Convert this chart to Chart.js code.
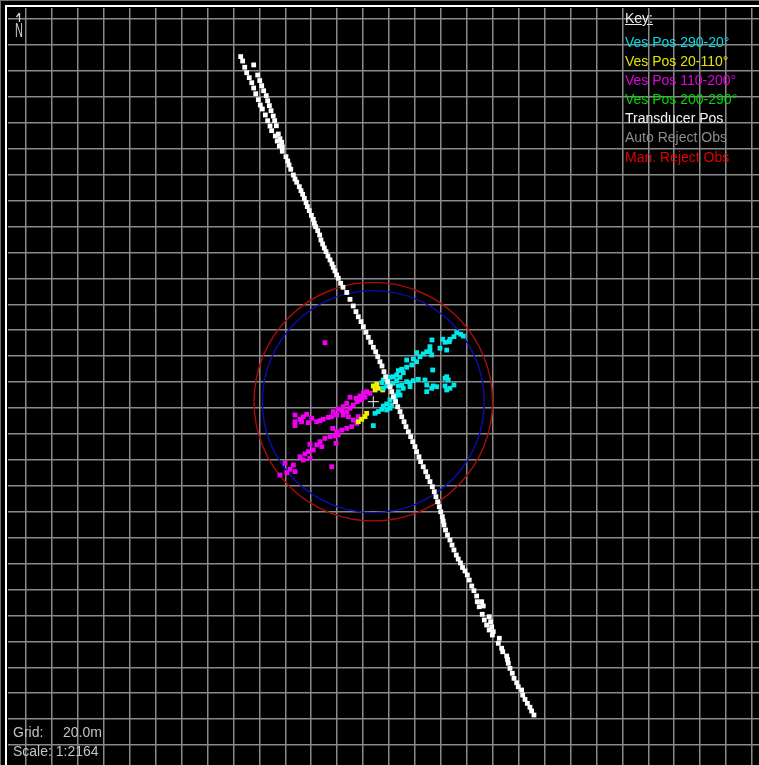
<!DOCTYPE html>
<html lang="en">
<head>
<meta charset="UTF-8">
<title>Position Plot</title>
<script src="https://cdn.jsdelivr.net/npm/chart.js"></script>
<style>
  body { margin: 0; background: #000; font-family: Arial, "Liberation Sans", sans-serif; }
  .plot { position: relative; width: 759px; height: 765px; background: #000; overflow: hidden; }
  .plot canvas { position: absolute; left: 0; top: 0; }
  .edge { position: absolute; left: 0; top: 0; right: 0; bottom: 0; border-top: 1px solid #707070; border-left: 1px solid #707070; pointer-events: none; }
  .frame { position: absolute; left: 5px; top: 5px; right: 0; bottom: 0; border-top: 2px solid #fff; border-left: 2px solid #fff; pointer-events: none; }
  .key { position: absolute; left: 625px; font-size: 14px; line-height: 19.1px; white-space: nowrap; }
  .key-title { top: 9px; color: #e8e8e8; text-decoration: underline; }
  .key-items { top: 33px; }
  .info { position: absolute; left: 13px; font-size: 14px; color: #c4c4c4; white-space: nowrap; }
</style>
</head>
<body>
<div class="plot">
  <canvas id="posChart" width="759" height="765"></canvas>
  <div class="edge"></div>
  <div class="frame"></div>
  <div class="key key-title">Key:</div>
  <div class="key key-items" id="keyItems"></div>
  <div class="info" style="top:724px">Grid:</div>
  <div class="info" style="top:724px; left:63px">20.0m</div>
  <div class="info" style="top:743px">Scale: 1:2164</div>
</div>
<script>
// positions in metres (easting, northing) on the local 20 m grid
const centrePos = [267.9, 264.9];
const ringRadii = [85.6, 92.0];

const transducerPos = [
  [165.6,531.0],[167.1,527.6],[175.6,524.6],[168.7,522.8],[170.2,518.6],[178.7,516.8],[172.2,514.8],[180.3,512.5],
  [174.1,510.9],[181.8,508.6],[175.6,506.8],[183.3,504.7],[177.2,502.4],[185.3,500.9],[179.2,497.8],[186.4,497.0],
  [180.7,493.7],[187.7,493.2],[182.3,490.6],[189.0,489.3],[184.6,486.0],[190.7,485.2],[186.4,481.6],[191.8,481.6],
  [193.1,477.7],[188.2,477.5],[189.5,473.9],[194.6,471.3],[192.3,469.8],[195.9,467.7],[193.8,465.9],[197.2,464.9],
  [195.4,462.1],[197.7,461.5],[197.7,458.0],[200.5,453.8],[201.9,450.5],[202.9,447.4],[204.2,444.1],[206.2,439.7],
  [207.5,436.6],[208.8,434.1],[210.8,430.7],[212.1,427.6],[213.4,424.8],[214.7,421.7],[216.0,418.4],[217.0,415.3],
  [218.5,412.2],[220.1,408.6],[221.6,405.5],[222.4,402.5],[223.4,399.8],[225.0,396.8],[226.5,393.4],[227.5,389.6],
  [228.8,386.5],[230.1,383.4],[231.4,380.6],[232.9,377.2],[234.5,374.2],[236.0,371.1],[237.0,368.5],[238.3,365.7],
  [239.6,362.6],[240.9,360.0],[242.7,356.2],[244.5,353.1],[247.4,349.1],[249.9,343.8],[252.4,338.7],[254.5,334.3],
  [256.3,330.4],[258.4,326.6],[260.2,322.7],[262.2,318.4],[264.0,314.5],[265.9,310.7],[267.9,306.8],[269.7,303.4],
  [271.3,299.6],[273.0,295.7],[274.6,292.4],[276.1,288.0],[277.4,284.1],[279.0,280.3],[280.8,276.4],[282.1,272.6],
  [283.3,268.7],[285.1,264.9],[286.7,261.0],[288.5,257.2],[289.8,253.3],[291.6,249.4],[293.1,245.6],[294.9,241.7],
  [296.7,237.9],[298.3,234.0],[300.0,230.2],[301.3,226.3],[303.1,222.4],[304.4,218.6],[306.4,214.7],[308.3,210.9],
  [309.8,207.0],[311.6,203.2],[313.4,199.3],[314.9,195.4],[316.2,191.6],[317.5,187.7],[318.8,183.9],[319.9,180.0],
  [321.1,176.2],[321.8,172.8],[322.4,169.8],[323.6,165.9],[325.1,162.1],[327.0,158.2],[328.6,154.3],[330.1,150.5],
  [331.9,146.6],[333.4,143.5],[335.1,140.5],[336.7,137.0],[338.6,134.3],[340.4,131.2],[341.9,127.3],[343.8,122.7],
  [345.5,119.1],[347.6,115.0],[351.5,110.6],[348.1,110.6],[349.6,106.7],[352.7,107.3],[351.9,100.9],[357.3,99.0],
  [353.5,96.5],[358.4,95.2],[355.3,92.6],[359.2,91.3],[357.3,88.8],[360.4,87.5],[359.7,84.9],[365.1,82.4],
  [364.3,78.5],[366.9,74.7],[367.7,72.0],[370.8,68.7],[371.4,66.0],[372.0,63.1],[373.3,59.2],[375.1,55.4],
  [376.4,51.5],[378.5,48.1],[379.7,45.0],[382.3,42.5],[383.1,38.6],[384.9,35.3],[386.7,32.2],[388.7,29.2],
  [390.0,26.3],[391.8,23.2]
];

// vessel positions, split by heading sector
const vesPos290to20 = [
  [332.2,318.1],[335.3,316.9],[337.3,315.5],[330.1,315.0],[327.0,313.0],[326.5,311.1],[321.4,313.0],[323.2,310.7],
  [313.1,312.5],[319.3,306.1],[324.5,304.7],[311.6,307.3],[311.6,304.2],[309.1,303.4],[312.9,300.9],[306.4,301.7],
  [303.9,299.6],[301.3,302.7],[298.7,297.8],[293.6,297.0],[301.3,295.7],[297.5,293.2],[293.6,291.4],[289.8,289.9],
  [287.2,288.8],[291.0,287.2],[285.9,285.5],[283.3,284.1],[280.8,283.7],[288.5,283.7],[278.2,282.1],[275.6,281.6],
  [274.4,279.5],[285.9,281.1],[283.3,279.1],[280.8,277.7],[278.2,277.0],[275.6,275.2],[287.2,277.0],[289.8,277.7],
  [291.0,275.2],[287.2,272.6],[285.9,270.0],[288.5,270.0],[284.6,267.5],[280.8,266.2],[278.2,263.1],[275.6,261.5],
  [282.1,262.3],[280.8,259.8],[278.2,258.5],[274.4,259.0],[271.7,257.2],[269.2,255.9],[267.9,246.4],[293.6,280.3],
  [296.2,279.5],[298.7,281.1],[302.6,282.1],[307.7,281.6],[296.2,276.4],[313.7,289.3],[323.2,282.9],[325.7,281.6],
  [309.1,277.7],[314.1,277.0],[316.8,276.4],[323.2,277.0],[330.1,277.7],[327.0,275.2],[324.5,273.9],[312.9,275.2],
  [309.1,272.6],[324.5,284.1]
];
const vesPos20to110 = [
  [267.9,277.0],[270.5,278.3],[271.7,275.2],[269.2,273.9],[275.1,273.9],[262.8,255.9],[261.5,253.3],[258.9,251.3],
  [256.3,249.4]
];
const vesPos110to200 = [
  [230.6,310.4],[262.8,272.6],[260.2,271.3],[265.3,271.3],[257.6,269.3],[261.5,268.3],[254.5,267.5],[258.9,266.2],
  [249.9,268.3],[255.5,264.9],[252.4,262.3],[247.4,263.6],[249.9,259.8],[244.7,261.0],[243.5,257.9],[247.4,257.2],
  [240.9,259.0],[237.0,257.2],[239.6,254.6],[235.8,253.3],[233.2,252.8],[229.3,251.3],[226.8,250.2],[224.2,249.4],
  [220.4,252.1],[216.5,255.1],[213.9,253.3],[211.3,251.3],[207.5,254.6],[207.5,249.4],[212.6,249.4],[217.7,248.7],
  [207.5,246.4],[244.7,254.6],[248.6,253.3],[252.4,250.7],[256.3,253.3],[255.1,248.2],[251.2,245.6],[247.4,244.3],
  [243.5,243.0],[239.6,241.7],[236.6,244.3],[240.9,239.2],[238.3,238.4],[234.5,237.9],[230.6,236.6],[239.1,232.8],
  [226.8,234.0],[224.2,231.5],[228.1,230.2],[219.0,232.0],[221.6,227.6],[217.7,226.3],[215.2,224.5],[211.3,222.4],
  [213.9,219.9],[219.0,221.2],[235.8,214.7],[206.2,216.0],[199.8,217.4],[203.6,212.7],[201.1,210.1],[195.9,208.3],
  [207.5,210.9]
];
const vesPos200to290 = [];
const autoRejectObs = [];
const manRejectObs = [];

const seriesLabels = ['Ves Pos 290-20°', 'Ves Pos 20-110°', 'Ves Pos 110-200°', 'Ves Pos 200-290°',
  'Transducer Pos', 'Auto Reject Obs', 'Man. Reject Obs'];

const markColours = ['#00e8e8', '#f0f000', '#f000f0', '#00e000', '#ffffff', '#808080', '#e00000'];
const keyColours  = ['#00dce6', '#e2e200', '#e000e0', '#00d800', '#f4f4f4', '#8c8c8c', '#e00000'];

const toXY = pts => pts.map(p => ({ x: p[0], y: p[1] }));

// key text
const keyBox = document.getElementById('keyItems');
seriesLabels.forEach((lbl, i) => {
  const d = document.createElement('div');
  d.textContent = lbl;
  d.style.color = keyColours[i];
  keyBox.appendChild(d);
});

// range rings round the centre position + north marker
const rangeRings = {
  id: 'rangeRings',
  beforeDatasetsDraw(chart, args, opts) {
    const { ctx, scales: { x, y } } = chart;
    const cx = x.getPixelForValue(centrePos[0]);
    const cy = y.getPixelForValue(centrePos[1]);
    ringRadii.forEach((r, i) => {
      const rp = Math.abs(x.getPixelForValue(centrePos[0] + r) - cx);
      ctx.save();
      ctx.strokeStyle = opts.colours[i];
      ctx.lineWidth = 1.4;
      ctx.beginPath();
      ctx.arc(cx, cy, rp, 0, Math.PI * 2);
      ctx.stroke();
      ctx.restore();
    });
  },
  afterDraw(chart) {
    const ctx = chart.ctx;
    ctx.save();
    ctx.strokeStyle = '#cfcfcf';
    ctx.lineWidth = 1.3;
    ctx.beginPath();
    ctx.moveTo(19.5, 13); ctx.lineTo(19.5, 22);
    ctx.moveTo(19.5, 13); ctx.lineTo(16.5, 17);
    ctx.stroke();
    ctx.fillStyle = '#cfcfcf';
    ctx.translate(15, 37);
    ctx.scale(0.55, 1);
    ctx.font = '20px Arial';
    ctx.fillText('N', 0, 0);
    ctx.restore();
  }
};

const ptStyle = (data, colour) => ({
  data: toXY(data),
  backgroundColor: colour,
  borderWidth: 0,
  pointStyle: 'rect',
  pointRadius: 3.4
});

const ctx = document.getElementById('posChart').getContext('2d');
new Chart(ctx, {
  type: 'scatter',
  data: {
    datasets: [
      { label: 'Centre', data: toXY([centrePos]), pointStyle: 'cross', pointRadius: 5.5,
        borderColor: '#c8c8c8', borderWidth: 1.2, backgroundColor: '#c8c8c8' },
      { label: seriesLabels[4], ...ptStyle(transducerPos, markColours[4]) },
      { label: seriesLabels[0], ...ptStyle(vesPos290to20, markColours[0]) },
      { label: seriesLabels[1], ...ptStyle(vesPos20to110, markColours[1]) },
      { label: seriesLabels[2], ...ptStyle(vesPos110to200, markColours[2]) },
      { label: seriesLabels[3], ...ptStyle(vesPos200to290, markColours[3]) },
      { label: seriesLabels[5], ...ptStyle(autoRejectObs, markColours[5]) },
      { label: seriesLabels[6], ...ptStyle(manRejectObs, markColours[6]) }
    ]
  },
  options: {
    responsive: false,
    animation: false,
    events: [],
    layout: { autoPadding: false, padding: { left: 8, top: 8, right: 0, bottom: 0 } },
    plugins: {
      legend: { display: false },
      tooltip: { enabled: false },
      rangeRings: { colours: ['#0c0cb4', '#a80c0c'] }
    },
    scales: {
      x: {
        type: 'linear', min: -13.9, max: 565.4,
        border: { display: false },
        grid: { color: '#8a8a8a', lineWidth: 1.5, drawTicks: false },
        ticks: { display: false, stepSize: 20, includeBounds: false }
      },
      y: {
        type: 'linear', min: -15.35, max: 568.5,
        border: { display: false },
        grid: { color: '#8a8a8a', lineWidth: 1.5, drawTicks: false },
        ticks: { display: false, stepSize: 20, includeBounds: false }
      }
    }
  },
  plugins: [rangeRings]
});
</script>
</body>
</html>
